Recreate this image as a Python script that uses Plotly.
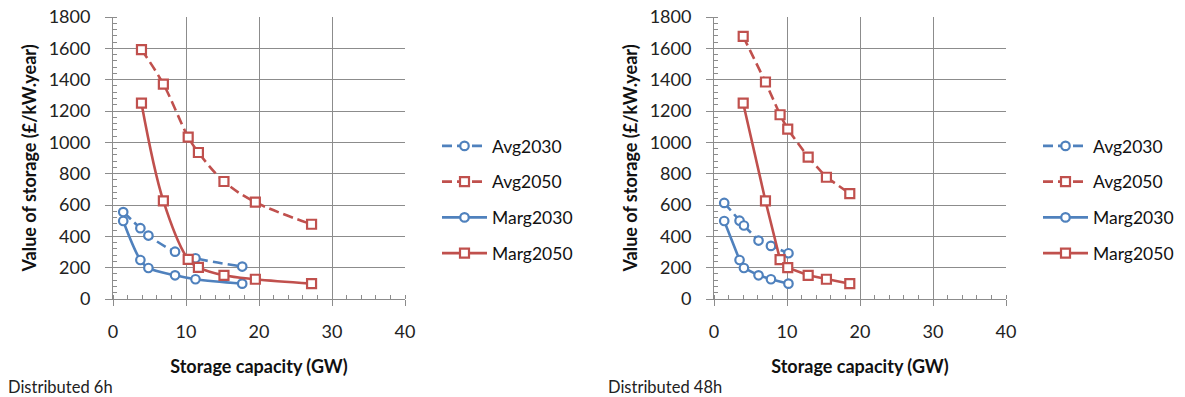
import plotly.graph_objects as go

# ---- data: Distributed 6h (left) ----
x6_avg2030 = [1.4, 3.75, 4.85, 8.5, 11.3, 17.7]
y6_avg2030 = [555, 452, 405, 302, 260, 207]
x6_marg2030 = [1.4, 3.75, 4.85, 8.5, 11.3, 17.7]
y6_marg2030 = [498, 249, 198, 151, 126, 98]
x6_avg2050 = [3.9, 6.9, 10.3, 11.7, 15.2, 19.5, 27.2]
y6_avg2050 = [1592, 1372, 1033, 935, 750, 618, 477]
x6_marg2050 = [3.9, 6.9, 10.3, 11.7, 15.2, 19.5, 27.2]
y6_marg2050 = [1250, 626, 253, 202, 151, 126, 98]

# ---- data: Distributed 48h (right) ----
x48_avg2030 = [1.4, 3.5, 4.1, 6.1, 7.8, 10.2]
y48_avg2030 = [613, 500, 469, 373, 339, 292]
x48_marg2030 = [1.4, 3.5, 4.1, 6.1, 7.8, 10.2]
y48_marg2030 = [498, 249, 198, 151, 126, 98]
x48_avg2050 = [4.0, 7.05, 9.05, 10.1, 12.9, 15.4, 18.6]
y48_avg2050 = [1676, 1385, 1176, 1084, 905, 777, 673]
x48_marg2050 = [4.0, 7.05, 9.05, 10.1, 12.9, 15.4, 18.6]
y48_marg2050 = [1250, 626, 251, 200, 151, 126, 98]

series_names = ["Avg2030", "Avg2050", "Marg2030", "Marg2050"]
x_ticks = [0, 10, 20, 30, 40]
y_ticks = [0, 200, 400, 600, 800, 1000, 1200, 1400, 1600, 1800]

BLUE = "#4F81BD"
RED = "#C0504D"
GRID = "#8C8C8C"
FONT = "Lato, Carlito, Calibri, sans-serif"
W, H = 1185, 397

def px(v):  # window x pixel -> paper fraction
    return v / W

def py(v):  # window y pixel -> paper fraction
    return 1 - v / H

fig = go.Figure()

def add(x, y, name, color, dash, symbol, xa, ya, legend, shape):
    fig.add_trace(go.Scatter(
        x=x, y=y, name=name, mode="lines+markers",
        line=dict(color=color, width=2.6, dash=dash, shape=shape),
        marker=dict(symbol=symbol, size=8.5 if symbol == "circle" else 9,
                    color="white", line=dict(color=color, width=2.2)),
        xaxis=xa, yaxis=ya, legend=legend, legendgroup=legend + name,
    ))

left = [(x6_avg2030, y6_avg2030), (x6_avg2050, y6_avg2050),
        (x6_marg2030, y6_marg2030), (x6_marg2050, y6_marg2050)]
right = [(x48_avg2030, y48_avg2030), (x48_avg2050, y48_avg2050),
         (x48_marg2030, y48_marg2030), (x48_marg2050, y48_marg2050)]
DASH = "10px,5px"
styles = [(BLUE, DASH, "circle"), (RED, DASH, "square"),
          (BLUE, "solid", "circle"), (RED, "solid", "square")]

for (x, y), name, (c, d, s) in zip(left, series_names, styles):
    add(x, y, name, c, d, s, "x", "y", "legend", "spline")
for (x, y), name, (c, d, s) in zip(right, series_names, styles):
    add(x, y, name, c, d, s, "x2", "y2", "legend2", "linear")

def xaxis(domain, anchor):
    return dict(domain=domain, anchor=anchor, range=[0, 40], tickvals=x_ticks,
                automargin=False, ticklabeloverflow="allow",
                showgrid=True, gridcolor=GRID, gridwidth=1,
                showline=True, linecolor=GRID, linewidth=1,
                ticks="outside", ticklen=6, tickcolor=GRID,
                ticklabelstandoff=10, zeroline=False,
                tickfont=dict(family=FONT, size=18, color="#222"),
                title=dict(text="<b>Storage capacity (GW)</b>", standoff=19,
                           font=dict(family=FONT, size=18, color="#111")),
                minor=dict(dtick=2, ticks="inside", ticklen=4, tickcolor=GRID, showgrid=False))

def yaxis(anchor):
    return dict(domain=[py(299), py(17)], anchor=anchor, range=[0, 1800], tickvals=y_ticks,
                automargin=False, ticklabeloverflow="allow",
                showgrid=True, gridcolor=GRID, gridwidth=1,
                showline=True, linecolor=GRID, linewidth=1,
                ticks="outside", ticklen=7, tickcolor=GRID,
                ticklabelstandoff=11, zeroline=False,
                tickfont=dict(family=FONT, size=18, color="#222"),
                title=dict(text="<b>Value of storage (£/kW.year)</b>", standoff=7,
                           font=dict(family=FONT, size=18, color="#111")),
                minor=dict(dtick=40, ticks="inside", ticklen=4, tickcolor=GRID, showgrid=False))

legend_common = dict(font=dict(family=FONT, size=17.5, color="#111"), bgcolor="rgba(0,0,0,0)",
                     traceorder="grouped", tracegroupgap=10, itemwidth=45,
                     xanchor="left", yanchor="top")

fig.update_layout(
    width=W, height=H,
    margin=dict(l=0, r=0, t=0, b=0),
    paper_bgcolor="white", plot_bgcolor="white",
    xaxis=xaxis([px(113), px(405)], "y"),
    yaxis=yaxis("x"),
    xaxis2=xaxis([px(714), px(1006)], "y2"),
    yaxis2=yaxis("x2"),
    legend=dict(x=px(437), y=py(128), **legend_common),
    legend2=dict(x=px(1038), y=py(128), **legend_common),
    annotations=[
        dict(text="Distributed 6h", x=px(6), y=py(387), xref="paper", yref="paper",
             xanchor="left", yanchor="middle", showarrow=False,
             font=dict(family=FONT, size=16.5, color="#222")),
        dict(text="Distributed 48h", x=px(606), y=py(387), xref="paper", yref="paper",
             xanchor="left", yanchor="middle", showarrow=False,
             font=dict(family=FONT, size=16.5, color="#222")),
    ],
)

fig.write_html("out.html", config={"displayModeBar": False},
               post_script="document.body.style.margin='0';document.body.style.overflow='hidden';")
